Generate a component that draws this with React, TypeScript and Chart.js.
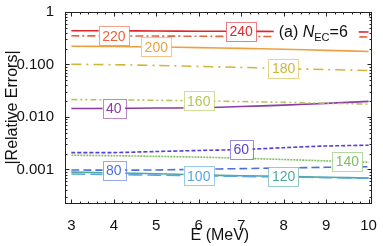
import React, { useEffect, useRef } from 'react';
import { Chart, registerables } from 'chart.js';
Chart.register(...registerables);

const energies = [3, 4, 5, 6, 7, 8, 9, 10];
const xTicks = [3, 4, 5, 6, 7, 8, 9, 10];
const yTicks = [0.001, 0.01, 0.1, 1];

const err240 = [0.44, 0.44, 0.435, 0.43, 0.43, 0.425, 0.42, 0.415];
const err220 = [0.352, 0.35, 0.348, 0.345, 0.342, 0.34, 0.337, 0.335];
const err200 = [0.222, 0.22, 0.216, 0.21, 0.203, 0.195, 0.186, 0.177];
const err180 = [0.101, 0.099, 0.096, 0.092, 0.088, 0.084, 0.08, 0.077];
const err160 = [0.0215, 0.0212, 0.0208, 0.0203, 0.0197, 0.019, 0.0183, 0.0176];
const err40 = [0.0145, 0.0146, 0.0148, 0.015, 0.0158, 0.0168, 0.0182, 0.0198];
const err60 = [0.0021, 0.0021, 0.0022, 0.0023, 0.0024, 0.0026, 0.0028, 0.0029];
const err140 = [0.00187, 0.00183, 0.00178, 0.00172, 0.00164, 0.00155, 0.00146, 0.00138];
const err80 = [0.00098, 0.00097, 0.00098, 0.00101, 0.00104, 0.00107, 0.0011, 0.00113];
const err100 = [0.00082, 0.0008, 0.00078, 0.00076, 0.00074, 0.00072, 0.0007, 0.00068];
const err120 = [0.00089, 0.00086, 0.00083, 0.00079, 0.00076, 0.00074, 0.00071, 0.00069];

const seriesNames = ['240', '220', '200', '180', '160', '40', '60', '140', '80', '100', '120'];
const seriesValues = [err240, err220, err200, err180, err160, err40, err60, err140, err80, err100, err120];
const labelAt = [7, 4, 5, 8, 6, 4, 7, 9.5, 4, 6, 8];
const colors = ['#e0262b', '#e8643c', '#eea040', '#d2b63a', '#b5c656', '#8e3aa6', '#5b3fcf', '#80c064', '#4d6fdc', '#5aa6de', '#4fa99a'];
const dashes: number[][] = [[], [8, 3, 2, 3], [], [10, 5, 2, 5], [6, 3, 2, 3, 2, 3], [], [4, 2], [2, 1], [8, 4], [14, 5], []];

const FONT = "'Liberation Sans', Arial, sans-serif";

function valueAt(vals: number[], e: number) {
  for (let i = 0; i < energies.length - 1; i++) {
    if (e >= energies[i] && e <= energies[i + 1]) {
      const t = (e - energies[i]) / (energies[i + 1] - energies[i]);
      return Math.pow(10, Math.log10(vals[i]) * (1 - t) + Math.log10(vals[i + 1]) * t);
    }
  }
  return vals[vals.length - 1];
}

const decorPlugin = {
  id: 'decor',
  afterDatasetsDraw(chart: any) {
    const ctx = chart.ctx;
    const xs = chart.scales.x;
    const ys = chart.scales.y;
    const ca = chart.chartArea;
    ctx.save();
    // legend box
    const lx = ca.right - 97;
    ctx.fillStyle = '#fff';
    ctx.fillRect(lx, 22, 85, 22);
    ctx.fillStyle = '#111';
    ctx.textBaseline = 'middle';
    ctx.textAlign = 'left';
    ctx.font = `16px ${FONT}`;
    let px = lx + 5;
    ctx.fillText('(a) ', px, 33);
    px += ctx.measureText('(a) ').width;
    ctx.font = `italic 16px ${FONT}`;
    ctx.fillText('N', px, 33);
    px += ctx.measureText('N').width;
    ctx.font = `11px ${FONT}`;
    ctx.fillText('EC', px, 38);
    px += ctx.measureText('EC').width;
    ctx.font = `16px ${FONT}`;
    ctx.fillText('=6', px, 33);

    // series labels
    ctx.font = `14px ${FONT}`;
    ctx.textAlign = 'center';
    seriesNames.forEach((name, i) => {
      const e = labelAt[i];
      const v = valueAt(seriesValues[i], e);
      const x = xs.getPixelForValue(e);
      const y = ys.getPixelForValue(v);
      const w = ctx.measureText(name).width + 7;
      const h = 19;
      ctx.fillStyle = '#fff';
      ctx.fillRect(x - w / 2, y - h / 2, w, h);
      ctx.globalAlpha = 0.6;
      ctx.strokeStyle = colors[i];
      ctx.lineWidth = 1;
      ctx.strokeRect(Math.round(x - w / 2) + 0.5, Math.round(y - h / 2) + 0.5, Math.round(w), h);
      ctx.globalAlpha = 1;
      ctx.fillStyle = colors[i];
      ctx.fillText(name, x, y + 1);
    });
    ctx.restore();
  },
  afterDraw(chart: any) {
    const ctx = chart.ctx;
    const xs = chart.scales.x;
    const ys = chart.scales.y;
    const ca = chart.chartArea;
    ctx.save();
    ctx.strokeStyle = '#222';
    ctx.lineWidth = 1;
    const L = Math.round(ca.left) + 0.5, R = Math.round(ca.right) + 0.5;
    const T = Math.round(ca.top) + 0.5, B = Math.round(ca.bottom) + 0.5;
    ctx.strokeRect(L, T, R - L, B - T);
    ctx.beginPath();
    // x ticks
    for (let k = 0; k <= 40; k++) {
      const v = 3 + k * 0.2;
      if (v > 10.05) break;
      const x = Math.round(xs.getPixelForValue(v)) + 0.5;
      const len = k % 5 === 0 ? 4 : 2;
      ctx.moveTo(x, B); ctx.lineTo(x, B - len);
      ctx.moveTo(x, T); ctx.lineTo(x, T + len);
    }
    // y ticks
    for (let d = -4; d <= 0; d++) {
      for (let m = 1; m <= 9; m++) {
        const v = m * Math.pow(10, d);
        if (v < ys.min || v > ys.max) continue;
        const y = Math.round(ys.getPixelForValue(v)) + 0.5;
        const len = m === 1 ? 4 : 2;
        ctx.moveTo(L, y); ctx.lineTo(L + len, y);
        ctx.moveTo(R, y); ctx.lineTo(R - len, y);
      }
    }
    ctx.stroke();
    // titles
    ctx.fillStyle = '#111';
    ctx.font = `16px ${FONT}`;
    ctx.textAlign = 'center';
    ctx.textBaseline = 'middle';
    ctx.fillText('E (MeV)', (ca.left + ca.right) / 2 + 2, 236);
    ctx.translate(13, (ca.top + ca.bottom) / 2);
    ctx.rotate(-Math.PI / 2);
    ctx.fillText('|Relative Errors|', 0, 0);
    ctx.restore();
  },
};

export default function App() {
  const ref = useRef<HTMLCanvasElement | null>(null);
  useEffect(() => {
    document.body.style.margin = '0';
    const canvas = ref.current!;
    const chart = new Chart(canvas, {
      type: 'line',
      data: {
        datasets: seriesNames.map((name, i) => ({
          label: name,
          data: energies.map((e, j) => ({ x: e, y: seriesValues[i][j] })),
          borderColor: colors[i],
          borderWidth: 1.6,
          borderDash: dashes[i],
          pointRadius: 0,
          fill: false,
          tension: 0.3,
        })),
      },
      options: {
        animation: false,
        responsive: false,
        devicePixelRatio: 1,
        layout: { padding: { top: 10, right: 8, left: 0, bottom: 0 } },
        plugins: { legend: { display: false }, tooltip: { enabled: false } },
        scales: {
          x: {
            type: 'linear',
            min: 2.85,
            max: 10.05,
            grid: { display: false },
            border: { display: false },
            afterBuildTicks: (s: any) => { s.ticks = xTicks.map((v) => ({ value: v })); },
            afterFit: (s: any) => { s.height = 43; },
            ticks: { font: { family: FONT, size: 15 }, color: '#111', padding: 6, maxRotation: 0, autoSkip: false },
          },
          y: {
            type: 'logarithmic',
            min: 0.00023,
            max: 1,
            grid: { display: false },
            border: { display: false },
            afterBuildTicks: (s: any) => { s.ticks = yTicks.map((v) => ({ value: v })); },
            afterFit: (s: any) => { s.width = 65; },
            ticks: {
              font: { family: FONT, size: 15 },
              color: '#111',
              padding: 3,
              autoSkip: false,
              callback: (v: any) => (v === 1 ? '1' : Number(v).toFixed(3)),
            },
          },
        },
      },
      plugins: [decorPlugin],
    } as any);
    return () => chart.destroy();
  }, []);
  return (
    <div style={{ width: 383, height: 246 }}>
      <canvas ref={ref} width={383} height={246} style={{ display: 'block' }} />
    </div>
  );
}
